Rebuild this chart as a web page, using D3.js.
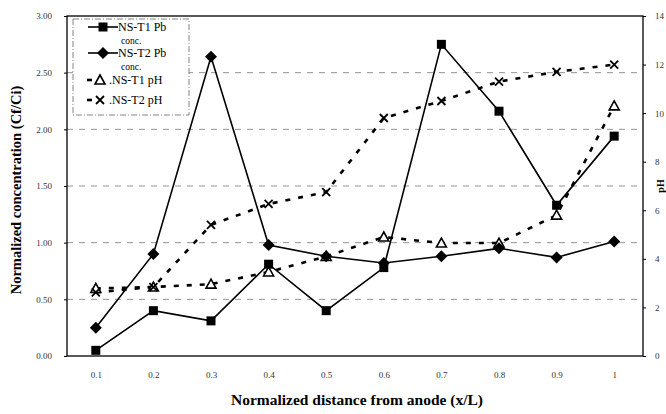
<!DOCTYPE html>
<html><head><meta charset="utf-8">
<script src="https://cdn.jsdelivr.net/npm/d3@7"></script>
<style>body{margin:0;background:#fff}svg{display:block}</style>
</head><body><svg id="c" width="666" height="414"></svg>
<script>
const distances = [0.1,0.2,0.3,0.4,0.5,0.6,0.7,0.8,0.9,1.0];
const t1Pb = [0.05,0.40,0.31,0.81,0.40,0.78,2.75,2.16,1.33,1.94];
const t2Pb = [0.25,0.90,2.64,0.98,0.88,0.82,0.88,0.95,0.87,1.01];
const t1pH = [2.78,2.84,2.96,3.46,4.1,4.9,4.65,4.65,5.8,10.3];
const t2pH = [2.62,2.84,5.4,6.26,6.75,9.8,10.5,11.3,11.7,12.0];
const leftTicks = [0,0.5,1.0,1.5,2.0,2.5,3.0];
const rightTicks = [0,2,4,6,8,10,12,14];
const xTickLabels = ["0.1","0.2","0.3","0.4","0.5","0.6","0.7","0.8","0.9","1"];

const svg = d3.select("#c");
const L=67,R=643,T=16,B=356;
const x = d3.scaleLinear().domain([0.05,1.05]).range([L,R]);
const yL = d3.scaleLinear().domain([0,3]).range([B,T]);
const yR = d3.scaleLinear().domain([0,14]).range([B,T]);
const serif = "'Liberation Serif','Times New Roman',serif";

// gridlines
svg.append("g").selectAll("line").data(leftTicks.filter(d=>d>0&&d<3)).join("line")
  .attr("x1",L).attr("x2",R).attr("y1",d=>yL(d)).attr("y2",d=>yL(d))
  .attr("stroke","#777").attr("stroke-width",0.8).attr("stroke-dasharray","6,6");

// frame
svg.append("rect").attr("x",L).attr("y",T).attr("width",R-L).attr("height",B-T)
  .attr("fill","none").attr("stroke","#000").attr("stroke-width",1.3);

// axes
const axL = svg.append("g").attr("transform",`translate(${L},0)`)
  .call(d3.axisLeft(yL).tickValues(leftTicks).tickFormat(d3.format(".2f")).tickSize(3).tickPadding(12));
const axR = svg.append("g").attr("transform",`translate(${R},0)`)
  .call(d3.axisRight(yR).tickValues(rightTicks).tickFormat(d3.format("d")).tickSize(3).tickPadding(9));
const axB = svg.append("g").attr("transform",`translate(0,${B})`)
  .call(d3.axisBottom(x).tickValues(distances).tickFormat((d,i)=>xTickLabels[i]).tickSize(0).tickPadding(16));
[axL,axR,axB].forEach(a=>{
  a.select(".domain").remove();
  a.selectAll("text").attr("font-family",serif).attr("font-size",9).attr("fill","#333");
});

// lines
const lineL = d3.line().x((d,i)=>x(distances[i])).y(d=>yL(d));
const lineR = d3.line().x((d,i)=>x(distances[i])).y(d=>yR(d));
svg.append("path").datum(t1pH).attr("d",lineR).attr("fill","none").attr("stroke","#000")
  .attr("stroke-width",2.6).attr("stroke-dasharray","5,8");
svg.append("path").datum(t2pH).attr("d",lineR).attr("fill","none").attr("stroke","#000")
  .attr("stroke-width",2.6).attr("stroke-dasharray","5,8");
svg.append("path").datum(t1Pb).attr("d",lineL).attr("fill","none").attr("stroke","#000").attr("stroke-width",1.6);
svg.append("path").datum(t2Pb).attr("d",lineL).attr("fill","none").attr("stroke","#000").attr("stroke-width",1.6);

const sq = "M-4.5,-4.5H4.5V4.5H-4.5Z";
const dia = "M0,-6L6,0L0,6L-6,0Z";
const tri = "M0,-5L5,4H-5Z";
const crs = "M-4,-4L4,4M4,-4L-4,4";

function styleSym(p, sym){
  if(sym===tri) p.attr("fill","#fff").attr("stroke","#000").attr("stroke-width",1.6);
  else if(sym===crs) p.attr("fill","none").attr("stroke","#000").attr("stroke-width",1.8);
  else p.attr("fill","#000");
}
function markers(data, ys, sym){
  const g = svg.append("g").selectAll("path").data(data).join("path")
    .attr("transform",(d,i)=>`translate(${x(distances[i])},${ys(d)})`).attr("d",sym);
  styleSym(g, sym);
}
markers(t1pH,yR,tri);
markers(t2pH,yR,crs);
markers(t2Pb,yL,dia);
markers(t1Pb,yL,sq);

// legend
const lg = svg.append("g");
lg.append("rect").attr("x",73).attr("y",19).attr("width",116).attr("height",96)
  .attr("fill","#fff").attr("stroke","#666").attr("stroke-width",0.8).attr("stroke-dasharray","6,2,1,2");
const legItems = [
  {label:"NS-T1 Pb", y:27, sym:sq, solid:true},
  {label:"NS-T2 Pb", y:53, sym:dia, solid:true},
  {label:".NS-T1 pH", y:80, sym:tri, solid:false},
  {label:".NS-T2 pH", y:100, sym:crs, solid:false}
];
legItems.forEach(it=>{
  if(it.solid){
    lg.append("line").attr("x1",88).attr("x2",118).attr("y1",it.y).attr("y2",it.y).attr("stroke","#000").attr("stroke-width",1.6);
  } else {
    lg.append("line").attr("x1",87).attr("x2",92).attr("y1",it.y).attr("y2",it.y).attr("stroke","#000").attr("stroke-width",2.6);
  }
  const p = lg.append("path").attr("d",it.sym).attr("transform",`translate(${it.solid?103:100},${it.y})`);
  styleSym(p, it.sym);
  lg.append("text").attr("x",it.solid?118:109).attr("y",it.y+4).text(it.label)
    .attr("font-family",serif).attr("font-size",12).attr("fill","#000");
});
[41,67].forEach(yy=>lg.append("text").attr("x",121).attr("y",yy+3).text("conc.")
  .attr("font-family",serif).attr("font-size",9.5).attr("fill","#000"));

// titles
svg.append("text").attr("transform","translate(21,190) rotate(-90)").attr("text-anchor","middle")
  .attr("font-family",serif).attr("font-weight","bold").attr("font-size",14.5).text("Normalized concentration (Cf/Ci)");
svg.append("text").attr("x",357).attr("y",405).attr("text-anchor","middle")
  .attr("font-family",serif).attr("font-weight","bold").attr("font-size",15.5).text("Normalized distance from anode (x/L)");
svg.append("text").attr("transform","translate(664,186) rotate(-90)").attr("text-anchor","middle")
  .attr("font-family",serif).attr("font-weight","bold").attr("font-size",10).text("pH");
</script></body></html>
